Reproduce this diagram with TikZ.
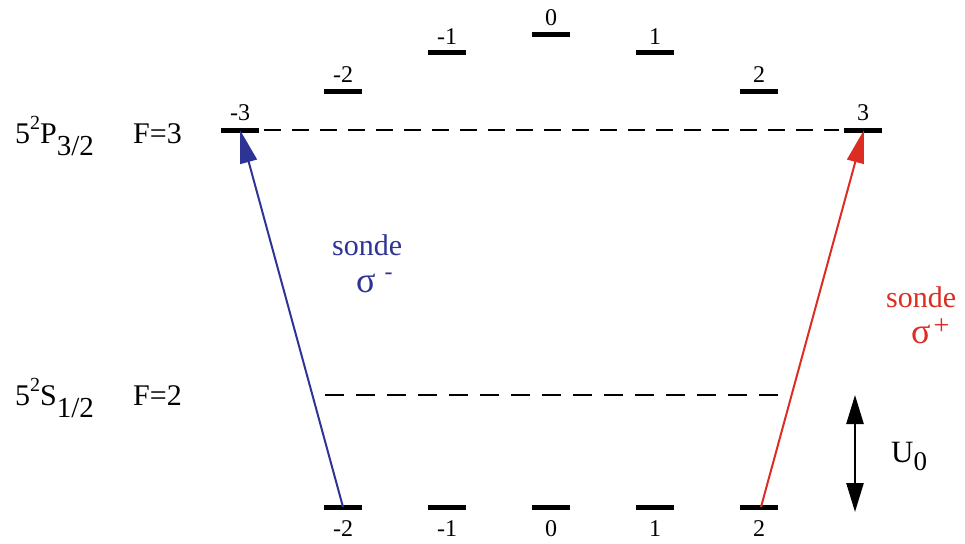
\documentclass[tikz,border=0pt]{standalone}
\usepackage{fontspec}
\setmainfont{Liberation Serif}
\usetikzlibrary{arrows.meta}
\definecolor{sblue}{RGB}{46,52,150}
\definecolor{sred}{RGB}{220,45,35}
\newcommand\fsz[1]{\fontsize{#1}{#1}\selectfont}
\tikzset{
  lvlbar/.style={fill=black, draw=none, minimum width=38pt, minimum height=5pt, inner sep=0pt},
  uplab/.style={label={[font=\fsz{24}, inner sep=0pt, label distance=6pt]above:#1}},
  lowlab/.style={label={[font=\fsz{24}, inner sep=0pt, label distance=11pt]below:#1}},
  dashline/.style={line width=2pt, dash pattern=on 17pt off 11pt},
  txt/.style={inner sep=0pt, anchor=base west},
  probe/.style={line width=2pt, -{Triangle[length=33pt,width=17pt]}},
}
\begin{document}
\begin{tikzpicture}[x=1pt,y=-1pt]
\useasboundingbox (0,0) rectangle (965,543);
% upper hyperfine level F=3
\node[lvlbar, uplab={-3}] (u-3) at (240,130) {};
\node[lvlbar, uplab={-2}] (u-2) at (343,91) {};
\node[lvlbar, uplab={-1}] (u-1) at (447,53) {};
\node[lvlbar, uplab={0}]  (u0)  at (551,35) {};
\node[lvlbar, uplab={1}]  (u1)  at (655,53) {};
\node[lvlbar, uplab={2}]  (u2)  at (759,91) {};
\node[lvlbar, uplab={3}]  (u3)  at (863,130) {};
% lower level F=2
\node[lvlbar, lowlab={-2}] (l-2) at (343,507) {};
\node[lvlbar, lowlab={-1}] (l-1) at (447,507) {};
\node[lvlbar, lowlab={0}]  (l0)  at (551,507) {};
\node[lvlbar, lowlab={1}]  (l1)  at (655,507) {};
\node[lvlbar, lowlab={2}]  (l2)  at (759,507) {};
% dashed reference lines
\draw[dashline, shorten <=5pt, shorten >=5pt] (u-3.east) -- (u3.west);
\coordinate (dl) at (325,395);
\coordinate (dr) at (778,395);
\draw[dashline, dash pattern=on 19pt off 12pt] (dl) -- (dr);
% left labels
\node[txt] (lp) at (15,143) {\fsz{30}5\raisebox{14pt}{\fsz{20}2}P\raisebox{-12pt}{\fsz{29}3/2}};
\node[txt] (f3) at (133,143) {\fsz{30}F=3};
\node[txt] (ls) at (15,405) {\fsz{30}5\raisebox{14pt}{\fsz{20}2}S\raisebox{-12pt}{\fsz{29}1/2}};
\node[txt] (f2) at (133,405) {\fsz{30}F=2};
% probe transitions
\draw[probe, sblue] (l-2.center) -- (u-3.center);
\draw[probe, sred] ([xshift=2pt]l2.center) -- ([xshift=1pt]u3.center);
\node[txt, text=sblue] (sb) at (332,255) {\fsz{30}sonde};
\node[txt, text=sblue] (sgb) at (356,292) {\fsz{36}σ\hspace{9pt}\raisebox{13pt}{\fsz{24}-}};
\node[txt, text=sred] (sr) at (886,307) {\fsz{30}sonde};
\node[txt, text=sred] (sgr) at (911,343) {\fsz{36}σ\hspace{3pt}\raisebox{9pt}{\fsz{28}+}};
% trap depth arrow
\coordinate (ua) at (855,395);
\coordinate (ub) at (855,512);
\draw[line width=2.5pt, {Triangle[length=29pt,width=17pt]}-{Triangle[length=29pt,width=17pt]}] (ua) -- (ub);
\node[txt] (u0lab) at (891,462) {\fsz{31}U\raisebox{-8pt}{\fsz{27}0}};
\end{tikzpicture}
\end{document}
